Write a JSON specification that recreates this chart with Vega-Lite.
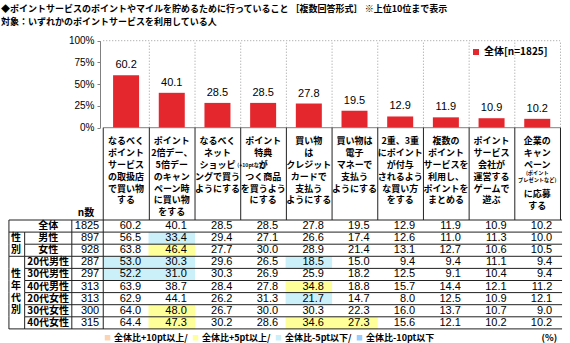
{
  "$schema": "https://vega.github.io/schema/vega-lite/v6.json",
  "width": 570,
  "height": 343,
  "autosize": {"type": "none"},
  "padding": 0,
  "background": "white",
  "title": {
    "text": "◆ポイントサービスのポイントやマイルを貯めるために行っていること ［複数回答形式］ ※上位10位まで表示",
    "subtitle": "対象：いずれかのポイントサービスを利用している人",
    "anchor": "start", "frame": "group", "orient": "top", "offset": -27, "dx": 1,
    "font": "Noto Sans CJK JP", "subtitleFont": "Noto Sans CJK JP",
    "fontSize": 9, "subtitleFontSize": 9, "fontWeight": "bold", "subtitleFontWeight": "bold",
    "color": "black", "subtitleColor": "black", "subtitlePadding": 4
  },
  "datasets": {
    "bars": [
      {"c": 1, "pct": 60.2, "s": "全体[n=1825]", "q": "なるべく\nポイント\nサービス\nの取扱店\nで買い物\nする"},
      {"c": 2, "pct": 40.1, "s": "全体[n=1825]", "q": "ポイント\n2倍デー、\n5倍デー\nのキャン\nペーン時\nに買い物\nをする"},
      {"c": 3, "pct": 28.5, "s": "全体[n=1825]", "q": "なるべく\nネット\nショッピ\nングで買う\nようにする"},
      {"c": 4, "pct": 28.5, "s": "全体[n=1825]", "q": "ポイント\n特典\n　　が\nつく商品\nを買うよう\nにする", "note": "(+10ptなど)"},
      {"c": 5, "pct": 27.8, "s": "全体[n=1825]", "q": "買い物\nは\nクレジット\nカードで\n支払う\nようにする"},
      {"c": 6, "pct": 19.5, "s": "全体[n=1825]", "q": "買い物は\n電子\nマネーで\n支払う\nようにする"},
      {"c": 7, "pct": 12.9, "s": "全体[n=1825]", "q": "2重、3重\nにポイント\nが付与\nされるよう\nな買い方\nをする"},
      {"c": 8, "pct": 11.9, "s": "全体[n=1825]", "q": "複数の\nポイント\nサービスを\n利用し、\nポイントを\nまとめる"},
      {"c": 9, "pct": 10.9, "s": "全体[n=1825]", "q": "ポイント\nサービス\n会社が\n運営する\nゲームで\n遊ぶ"},
      {"c": 10, "pct": 10.2, "s": "全体[n=1825]", "q": "企業の\nキャン\nペーン", "q2": "に応募\nする", "note": "(ポイント\nプレゼントなど)"}
    ],
    "rows": [
      {"row": "全体", "n": 1825},
      {"row": "男性", "n": 897},
      {"row": "女性", "n": 928},
      {"row": "20代男性", "n": 287},
      {"row": "30代男性", "n": 297},
      {"row": "40代男性", "n": 313},
      {"row": "20代女性", "n": 313},
      {"row": "30代女性", "n": 300},
      {"row": "40代女性", "n": 315}
    ],
    "groups": [
      {"gl": "性\n別", "row": "男性"},
      {"gl": "性\n年\n代\n別", "row": "30代男性"}
    ],
    "cells": [
      {"row": "全体", "c": 1, "v": 60.2}, {"row": "全体", "c": 2, "v": 40.1}, {"row": "全体", "c": 3, "v": 28.5}, {"row": "全体", "c": 4, "v": 28.5}, {"row": "全体", "c": 5, "v": 27.8},
      {"row": "全体", "c": 6, "v": 19.5}, {"row": "全体", "c": 7, "v": 12.9}, {"row": "全体", "c": 8, "v": 11.9}, {"row": "全体", "c": 9, "v": 10.9}, {"row": "全体", "c": 10, "v": 10.2},
      {"row": "男性", "c": 1, "v": 56.5}, {"row": "男性", "c": 2, "v": 33.4, "lv": "-5pt"}, {"row": "男性", "c": 3, "v": 29.4}, {"row": "男性", "c": 4, "v": 27.1}, {"row": "男性", "c": 5, "v": 26.6},
      {"row": "男性", "c": 6, "v": 17.4}, {"row": "男性", "c": 7, "v": 12.6}, {"row": "男性", "c": 8, "v": 11.0}, {"row": "男性", "c": 9, "v": 11.3}, {"row": "男性", "c": 10, "v": 10.0},
      {"row": "女性", "c": 1, "v": 63.8}, {"row": "女性", "c": 2, "v": 46.4, "lv": "+5pt"}, {"row": "女性", "c": 3, "v": 27.7}, {"row": "女性", "c": 4, "v": 30.0}, {"row": "女性", "c": 5, "v": 28.9},
      {"row": "女性", "c": 6, "v": 21.4}, {"row": "女性", "c": 7, "v": 13.1}, {"row": "女性", "c": 8, "v": 12.7}, {"row": "女性", "c": 9, "v": 10.6}, {"row": "女性", "c": 10, "v": 10.5},
      {"row": "20代男性", "c": 1, "v": 53.0, "lv": "-5pt"}, {"row": "20代男性", "c": 2, "v": 30.3, "lv": "-5pt"}, {"row": "20代男性", "c": 3, "v": 29.6}, {"row": "20代男性", "c": 4, "v": 26.5}, {"row": "20代男性", "c": 5, "v": 18.5, "lv": "-5pt"},
      {"row": "20代男性", "c": 6, "v": 15.0}, {"row": "20代男性", "c": 7, "v": 9.4}, {"row": "20代男性", "c": 8, "v": 9.4}, {"row": "20代男性", "c": 9, "v": 11.1}, {"row": "20代男性", "c": 10, "v": 9.4},
      {"row": "30代男性", "c": 1, "v": 52.2, "lv": "-5pt"}, {"row": "30代男性", "c": 2, "v": 31.0, "lv": "-5pt"}, {"row": "30代男性", "c": 3, "v": 30.3}, {"row": "30代男性", "c": 4, "v": 26.9}, {"row": "30代男性", "c": 5, "v": 25.9},
      {"row": "30代男性", "c": 6, "v": 18.2}, {"row": "30代男性", "c": 7, "v": 12.5}, {"row": "30代男性", "c": 8, "v": 9.1}, {"row": "30代男性", "c": 9, "v": 10.4}, {"row": "30代男性", "c": 10, "v": 9.4},
      {"row": "40代男性", "c": 1, "v": 63.9}, {"row": "40代男性", "c": 2, "v": 38.7}, {"row": "40代男性", "c": 3, "v": 28.4}, {"row": "40代男性", "c": 4, "v": 27.8}, {"row": "40代男性", "c": 5, "v": 34.8, "lv": "+5pt"},
      {"row": "40代男性", "c": 6, "v": 18.8}, {"row": "40代男性", "c": 7, "v": 15.7}, {"row": "40代男性", "c": 8, "v": 14.4}, {"row": "40代男性", "c": 9, "v": 12.1}, {"row": "40代男性", "c": 10, "v": 11.2},
      {"row": "20代女性", "c": 1, "v": 62.9}, {"row": "20代女性", "c": 2, "v": 44.1}, {"row": "20代女性", "c": 3, "v": 26.2}, {"row": "20代女性", "c": 4, "v": 31.3}, {"row": "20代女性", "c": 5, "v": 21.7, "lv": "-5pt"},
      {"row": "20代女性", "c": 6, "v": 14.7}, {"row": "20代女性", "c": 7, "v": 8.0}, {"row": "20代女性", "c": 8, "v": 12.5}, {"row": "20代女性", "c": 9, "v": 10.9}, {"row": "20代女性", "c": 10, "v": 12.1},
      {"row": "30代女性", "c": 1, "v": 64.0}, {"row": "30代女性", "c": 2, "v": 48.0, "lv": "+5pt"}, {"row": "30代女性", "c": 3, "v": 26.7}, {"row": "30代女性", "c": 4, "v": 30.0}, {"row": "30代女性", "c": 5, "v": 30.3},
      {"row": "30代女性", "c": 6, "v": 22.3}, {"row": "30代女性", "c": 7, "v": 16.0}, {"row": "30代女性", "c": 8, "v": 13.7}, {"row": "30代女性", "c": 9, "v": 10.7}, {"row": "30代女性", "c": 10, "v": 9.0},
      {"row": "40代女性", "c": 1, "v": 64.4}, {"row": "40代女性", "c": 2, "v": 47.3, "lv": "+5pt"}, {"row": "40代女性", "c": 3, "v": 30.2}, {"row": "40代女性", "c": 4, "v": 28.6}, {"row": "40代女性", "c": 5, "v": 34.6, "lv": "+5pt"},
      {"row": "40代女性", "c": 6, "v": 27.3, "lv": "+5pt"}, {"row": "40代女性", "c": 7, "v": 15.6}, {"row": "40代女性", "c": 8, "v": 12.1}, {"row": "40代女性", "c": 9, "v": 10.2}, {"row": "40代女性", "c": 10, "v": 10.2}
    ]
  },
  "resolve": {"scale": {"y": "independent"}},
  "layer": [
    {
      "data": {"name": "bars"},
      "layer": [
        {
          "mark": {"type": "rule", "xOffset": 23.25, "strokeDash": [1, 2], "color": "#9a9a9a"},
          "encoding": {
            "x": {"field": "c", "type": "quantitative", "scale": {"domain": [-1.6505, 10.6075], "nice": false, "zero": false}, "axis": null},
            "y": {"datum": 0, "type": "quantitative"},
            "y2": {"datum": 100}
          }
        },
        {
          "data": {"values": [{}]},
          "mark": {"type": "rule", "strokeDash": [1, 2], "color": "#9a9a9a"},
          "encoding": {
            "x": {"datum": 0.5, "type": "quantitative", "axis": null},
            "x2": {"datum": 10.5},
            "y": {"datum": 100, "type": "quantitative"}
          }
        },
        {
          "mark": {"type": "bar", "width": 26, "orient": "vertical"},
          "encoding": {
            "x": {"field": "c", "type": "quantitative", "axis": null},
            "y": {
              "field": "pct", "type": "quantitative",
              "scale": {"domain": [0, 100], "range": [127.7, 40.7], "nice": false},
              "axis": {
                "title": null, "values": [0, 25, 50, 75, 100], "labelExpr": "datum.value + '%'",
                "offset": -100, "grid": false, "domainColor": "#808080", "tickColor": "#808080",
                "tickSize": 3, "labelPadding": 3, "labelFont": "Liberation Sans", "labelFontSize": 10,
                "labelColor": "black"
              }
            },
            "color": {
              "field": "s", "type": "nominal",
              "scale": {"range": ["#e4262d"]},
              "legend": {
                "title": null, "orient": "none", "legendX": 471, "legendY": 47,
                "symbolType": "square", "symbolSize": 36, "symbolStrokeWidth": 0,
                "labelFont": "Noto Sans CJK JP", "labelFontSize": 10, "labelFontWeight": "bold",
                "labelColor": "black", "labelOffset": 3, "padding": 0
              }
            }
          }
        },
        {
          "data": {"values": [{}]},
          "mark": {"type": "rule", "color": "#808080"},
          "encoding": {
            "x": {"datum": 0.5, "type": "quantitative", "axis": null},
            "x2": {"datum": 10.5},
            "y": {"datum": 0, "type": "quantitative"}
          }
        },
        {
          "mark": {"type": "text", "baseline": "bottom", "dy": -5, "font": "Liberation Sans", "fontSize": 11, "color": "black"},
          "encoding": {
            "x": {"field": "c", "type": "quantitative", "axis": null},
            "y": {"field": "pct", "type": "quantitative"},
            "text": {"field": "pct", "type": "quantitative", "format": ".1f"}
          }
        }
      ]
    },
    {
      "data": {"name": "bars"},
      "layer": [
        {
          "mark": {"type": "rule", "xOffset": 23.25, "color": "#222"},
          "encoding": {
            "x": {"field": "c", "type": "quantitative", "axis": null},
            "y": {"datum": 0, "type": "quantitative", "scale": {"domain": [0, 1], "range": [127.7, 220], "nice": false, "zero": false}, "axis": null},
            "y2": {"datum": 1}
          }
        },
        {
          "data": {"values": [{}]},
          "mark": {"type": "rule", "color": "#222"},
          "encoding": {
            "x": {"datum": 0.5, "type": "quantitative", "axis": null},
            "y": {"datum": 0, "type": "quantitative", "axis": null},
            "y2": {"datum": 1}
          }
        },
        {
          "mark": {"type": "text", "baseline": "top", "align": "center", "lineBreak": "\n", "lineHeight": 11.9, "font": "Noto Sans CJK JP", "fontSize": 9, "fontWeight": "bold", "color": "black"},
          "encoding": {
            "x": {"field": "c", "type": "quantitative", "axis": null},
            "y": {"datum": 0.1, "type": "quantitative", "axis": null},
            "text": {"field": "q"}
          }
        },
        {
          "transform": [{"filter": "isValid(datum.q2)"}],
          "mark": {"type": "text", "baseline": "top", "align": "center", "lineBreak": "\n", "lineHeight": 12.3, "font": "Noto Sans CJK JP", "fontSize": 9, "fontWeight": "bold", "color": "black"},
          "encoding": {
            "x": {"field": "c", "type": "quantitative", "axis": null},
            "y": {"datum": 0.677, "type": "quantitative", "axis": null},
            "text": {"field": "q2"}
          }
        },
        {
          "transform": [{"filter": "datum.c == 4"}],
          "mark": {"type": "text", "baseline": "middle", "align": "right", "dx": 3, "font": "Noto Sans CJK JP", "fontSize": 5.2, "fontWeight": "bold", "color": "black"},
          "encoding": {
            "x": {"field": "c", "type": "quantitative", "axis": null},
            "y": {"datum": 0.4063, "type": "quantitative", "axis": null},
            "text": {"field": "note"}
          }
        },
        {
          "transform": [{"filter": "datum.c == 10"}],
          "mark": {"type": "text", "baseline": "top", "align": "center", "lineBreak": "\n", "lineHeight": 6.7, "font": "Noto Sans CJK JP", "fontSize": 5.2, "fontWeight": "bold", "color": "black"},
          "encoding": {
            "x": {"field": "c", "type": "quantitative", "axis": null},
            "y": {"datum": 0.4735, "type": "quantitative", "axis": null},
            "text": {"field": "note"}
          }
        },
        {
          "data": {"values": [{"t": "n数"}]},
          "mark": {"type": "text", "baseline": "middle", "align": "center", "font": "Noto Sans CJK JP", "fontSize": 10, "fontWeight": "bold", "color": "black"},
          "encoding": {
            "x": {"datum": 0.124, "type": "quantitative", "axis": null},
            "y": {"datum": 0.927, "type": "quantitative", "axis": null},
            "text": {"field": "t"}
          }
        }
      ]
    },
    {
      "layer": [
        {
          "data": {"name": "cells"},
          "transform": [{"filter": "isValid(datum.lv)"}],
          "mark": {"type": "tick", "orient": "vertical", "size": 12.1, "thickness": 46.5, "opacity": 1},
          "encoding": {
            "x": {"field": "c", "type": "quantitative", "axis": null},
            "y": {"field": "row", "type": "nominal", "scale": {"type": "band", "domain": ["全体", "男性", "女性", "20代男性", "30代男性", "40代男性", "20代女性", "30代女性", "40代女性"], "range": [220, 328.9], "paddingInner": 0, "paddingOuter": 0}, "axis": null},
            "fill": {
              "field": "lv", "type": "nominal",
              "scale": {"domain": ["+10pt", "+5pt", "-5pt", "-10pt"], "range": ["#fbd4b4", "#ffff99", "#ccf0fa", "#99ccff"]},
              "legend": {
                "title": null, "orient": "none", "legendX": 103, "legendY": 333, "direction": "horizontal",
                "symbolType": "square", "symbolSize": 30, "symbolStrokeWidth": 0,
                "labelFont": "Noto Sans CJK JP", "labelFontSize": 9, "labelFontWeight": "bold", "labelColor": "black",
                "labelOffset": 2, "columnPadding": 3, "padding": 0, "labelLimit": 300,
                "labelExpr": "'全体比' + datum.value + ((datum.value == '+10pt' || datum.value == '+5pt') ? '以上/' : (datum.value == '-5pt' ? '以下/' : '以下'))"
              }
            }
          }
        },
        {
          "data": {"name": "cells"},
          "mark": {"type": "text", "align": "right", "baseline": "middle", "dx": 15, "font": "Liberation Sans", "fontSize": 11, "color": "black"},
          "encoding": {
            "x": {"field": "c", "type": "quantitative", "axis": null},
            "y": {"field": "row", "type": "nominal", "scale": {"type": "band"}, "axis": null},
            "text": {"field": "v", "type": "quantitative", "format": ".1f"}
          }
        },
        {
          "data": {"name": "rows"},
          "mark": {"type": "text", "align": "center", "baseline": "middle", "font": "Noto Sans CJK JP", "fontSize": 10, "fontWeight": "bold", "color": "black"},
          "encoding": {
            "x": {"datum": -0.7043, "type": "quantitative", "axis": null},
            "y": {"field": "row", "type": "nominal", "scale": {"type": "band"}, "axis": null},
            "text": {"field": "row"}
          }
        },
        {
          "data": {"name": "rows"},
          "mark": {"type": "text", "align": "right", "baseline": "middle", "dx": -4, "font": "Liberation Sans", "fontSize": 11, "color": "black"},
          "encoding": {
            "x": {"datum": 0.5, "type": "quantitative", "axis": null},
            "y": {"field": "row", "type": "nominal", "scale": {"type": "band"}, "axis": null},
            "text": {"field": "n"}
          }
        },
        {
          "data": {"name": "groups"},
          "mark": {"type": "text", "align": "center", "baseline": "middle", "lineBreak": "\n", "lineHeight": 11.8, "font": "Noto Sans CJK JP", "fontSize": 10, "fontWeight": "bold", "color": "black"},
          "encoding": {
            "x": {"datum": -1.4075, "type": "quantitative", "axis": null},
            "y": {"field": "row", "type": "nominal", "scale": {"type": "band"}, "axis": null},
            "text": {"field": "gl"}
          }
        },
        {
          "data": {"name": "rows"},
          "mark": {"type": "rule", "color": "#222"},
          "encoding": {
            "x": {"datum": -1.2204, "type": "quantitative", "axis": null},
            "x2": {"datum": 10.543},
            "y": {"field": "row", "type": "nominal", "bandPosition": 1, "scale": {"type": "band"}, "axis": null}
          }
        },
        {
          "data": {"name": "rows"},
          "transform": [{"filter": {"field": "row", "oneOf": ["全体", "女性", "40代女性"]}}],
          "mark": {"type": "rule", "color": "#222"},
          "encoding": {
            "x": {"datum": -1.5645, "type": "quantitative", "axis": null},
            "x2": {"datum": -1.2204},
            "y": {"field": "row", "type": "nominal", "bandPosition": 1, "scale": {"type": "band"}, "axis": null}
          }
        },
        {
          "data": {"name": "rows"},
          "transform": [{"filter": {"field": "row", "equal": "全体"}}],
          "mark": {"type": "rule", "color": "#222"},
          "encoding": {
            "x": {"datum": -1.5645, "type": "quantitative", "axis": null},
            "x2": {"datum": 10.543},
            "y": {"field": "row", "type": "nominal", "bandPosition": 0, "scale": {"type": "band"}, "axis": null}
          }
        },
        {
          "data": {"name": "rows"},
          "mark": {"type": "tick", "orient": "vertical", "size": 12.1, "thickness": 1, "opacity": 1, "color": "#222"},
          "encoding": {
            "x": {"datum": -1.5645, "type": "quantitative", "axis": null},
            "y": {"field": "row", "type": "nominal", "scale": {"type": "band"}, "axis": null}
          }
        },
        {
          "data": {"name": "rows"},
          "transform": [{"filter": {"not": {"field": "row", "equal": "全体"}}}],
          "mark": {"type": "tick", "orient": "vertical", "size": 12.1, "thickness": 1, "opacity": 1, "color": "#222"},
          "encoding": {
            "x": {"datum": -1.2204, "type": "quantitative", "axis": null},
            "y": {"field": "row", "type": "nominal", "scale": {"type": "band"}, "axis": null}
          }
        },
        {
          "data": {"name": "rows"},
          "mark": {"type": "tick", "orient": "vertical", "size": 12.1, "thickness": 1, "opacity": 1, "color": "#222"},
          "encoding": {
            "x": {"datum": -0.1881, "type": "quantitative", "axis": null},
            "y": {"field": "row", "type": "nominal", "scale": {"type": "band"}, "axis": null}
          }
        },
        {
          "data": {"name": "rows"},
          "mark": {"type": "tick", "orient": "vertical", "size": 12.1, "thickness": 1, "opacity": 1, "color": "#222"},
          "encoding": {
            "x": {"datum": 0.5, "type": "quantitative", "axis": null},
            "y": {"field": "row", "type": "nominal", "scale": {"type": "band"}, "axis": null}
          }
        },
        {
          "data": {"values": [{"row": "40代女性", "t": "(%)"}]},
          "mark": {"type": "text", "align": "right", "baseline": "middle", "dy": 9, "dx": -3, "font": "Noto Sans CJK JP", "fontSize": 9, "fontWeight": "bold", "color": "black"},
          "encoding": {
            "x": {"datum": 10.5, "type": "quantitative", "axis": null},
            "y": {"field": "row", "type": "nominal", "bandPosition": 1, "scale": {"type": "band"}, "axis": null},
            "text": {"field": "t"}
          }
        }
      ]
    }
  ],
  "config": {"view": {"stroke": null}, "font": "Noto Sans CJK JP"}
}
